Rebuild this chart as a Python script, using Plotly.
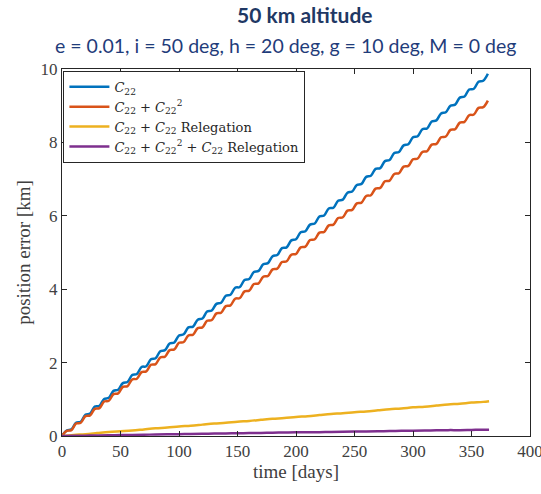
import plotly.graph_objects as go

# time samples (days) for the oscillating curves
t4 = [4 * k for k in range(92)]
c22 = [0.00, 0.15, 0.18, 0.36, 0.39, 0.58, 0.61, 0.80, 0.82, 1.01, 1.04, 1.23, 1.26, 1.44, 1.47, 1.66,
       1.69, 1.88, 1.90, 2.09, 2.12, 2.31, 2.34, 2.52, 2.55, 2.74, 2.77, 2.96, 2.98, 3.17, 3.20, 3.39,
       3.42, 3.60, 3.63, 3.82, 3.85, 4.04, 4.06, 4.25, 4.28, 4.47, 4.50, 4.68, 4.71, 4.90, 4.93, 5.12,
       5.14, 5.33, 5.36, 5.55, 5.58, 5.76, 5.79, 5.98, 6.01, 6.20, 6.22, 6.41, 6.44, 6.63, 6.66, 6.84,
       6.87, 7.06, 7.09, 7.28, 7.30, 7.49, 7.52, 7.71, 7.74, 7.92, 7.95, 8.14, 8.17, 8.36, 8.38, 8.57,
       8.60, 8.79, 8.82, 9.00, 9.03, 9.22, 9.25, 9.44, 9.46, 9.65, 9.68, 9.87]
c22_c222 = [0.00, 0.14, 0.16, 0.34, 0.36, 0.54, 0.56, 0.74, 0.76, 0.94, 0.96, 1.14, 1.16, 1.34, 1.36, 1.54,
            1.56, 1.74, 1.76, 1.94, 1.96, 2.14, 2.16, 2.34, 2.36, 2.54, 2.56, 2.74, 2.76, 2.94, 2.96, 3.14,
            3.16, 3.34, 3.36, 3.54, 3.56, 3.74, 3.76, 3.94, 3.96, 4.14, 4.16, 4.34, 4.36, 4.54, 4.56, 4.74,
            4.76, 4.94, 4.96, 5.14, 5.16, 5.34, 5.36, 5.54, 5.56, 5.74, 5.76, 5.94, 5.96, 6.14, 6.16, 6.34,
            6.36, 6.54, 6.56, 6.74, 6.76, 6.94, 6.96, 7.14, 7.16, 7.34, 7.36, 7.54, 7.56, 7.74, 7.76, 7.94,
            7.96, 8.14, 8.16, 8.34, 8.36, 8.54, 8.56, 8.74, 8.76, 8.94, 8.96, 9.14]

t10 = [0, 10, 20, 30, 40, 50, 60, 70, 80, 90, 100, 110, 120, 130, 140, 150, 160, 170, 180, 190,
       200, 210, 220, 230, 240, 250, 260, 270, 280, 290, 300, 310, 320, 330, 340, 350, 360, 365]
c22_rel = [0.00, 0.03, 0.05, 0.08, 0.11, 0.13, 0.15, 0.18, 0.21, 0.23, 0.26, 0.28, 0.31, 0.34, 0.36,
           0.39, 0.41, 0.44, 0.47, 0.49, 0.52, 0.54, 0.57, 0.60, 0.62, 0.65, 0.67, 0.70, 0.73, 0.75,
           0.78, 0.80, 0.83, 0.86, 0.88, 0.91, 0.93, 0.95]
all_rel = [0.00, 0.005, 0.01, 0.015, 0.02, 0.025, 0.03, 0.035, 0.04, 0.045, 0.05, 0.055, 0.06, 0.065,
           0.07, 0.075, 0.08, 0.085, 0.09, 0.095, 0.10, 0.10, 0.105, 0.11, 0.115, 0.12, 0.125, 0.13,
           0.135, 0.14, 0.145, 0.15, 0.155, 0.16, 0.16, 0.165, 0.17, 0.17]

names = ["<i>C</i><sub>22</sub>",
         "<i>C</i><sub>22</sub> + <i>C</i><sub>22</sub><sup>2</sup>",
         "<i>C</i><sub>22</sub> + <i>C</i><sub>22</sub> Relegation",
         "<i>C</i><sub>22</sub> + <i>C</i><sub>22</sub><sup>2</sup> + <i>C</i><sub>22</sub> Relegation"]
colors = ["#0072BD", "#D95319", "#EDB120", "#7E2F8E"]

x_ticks = [0, 50, 100, 150, 200, 250, 300, 350, 400]
y_ticks = [0, 2, 4, 6, 8, 10]

serif = "Liberation Serif"
fig = go.Figure()
series = [(t4, c22), (t4, c22_c222), (t10, c22_rel), (t10, all_rel)]
for (xs, ys), nm, col in zip(series, names, colors):
    fig.add_trace(go.Scatter(x=xs, y=ys, mode="lines", name=nm,
                             line=dict(color=col, width=2.5, shape="spline", smoothing=1.0)))

axis_common = dict(showline=True, linecolor="#262626", linewidth=1, mirror="ticks",
                   ticks="inside", ticklen=5, tickcolor="#262626", showgrid=False, zeroline=False,
                   automargin=False, ticklabeloverflow="allow",
                   tickfont=dict(family=serif, size=17, color="#404040"))
fig.update_xaxes(range=[0, 400], tickvals=x_ticks,
                 title=dict(text="time [days]", font=dict(family=serif, size=19, color="#404040"),
                            standoff=4), **axis_common)
fig.update_yaxes(range=[0, 10], tickvals=y_ticks,
                 title=dict(text="position error [km]", font=dict(family=serif, size=19, color="#404040"),
                            standoff=4), **axis_common)

fig.update_layout(
    width=541, height=494,
    margin=dict(l=62, r=11, t=69, b=58),
    paper_bgcolor="white", plot_bgcolor="white",
    showlegend=True,
    legend=dict(x=0.003, y=0.995, xanchor="left", yanchor="top",
                bgcolor="white", bordercolor="#262626", borderwidth=1,
                font=dict(family="DejaVu Serif", size=13, color="#262626"),
                tracegroupgap=0, itemwidth=40),
    annotations=[
        dict(text="<b>50 km altitude</b>", xref="paper", yref="paper", x=0.52, y=1.148,
             xanchor="center", yanchor="middle", showarrow=False,
             font=dict(family="Lato", size=21, color="#1F3864")),
        dict(text="e = 0.01, i = 50 deg, h = 20 deg, g = 10 deg, M = 0 deg", xref="paper", yref="paper",
             x=0.478, y=1.063, xanchor="center", yanchor="middle", showarrow=False,
             font=dict(family="Lato", size=19.5, color="#1F3C7A")),
    ],
)

fig.write_html("out.html", config={"displayModeBar": False},
               post_script="document.body.style.margin='0';document.body.style.overflow='hidden';")
